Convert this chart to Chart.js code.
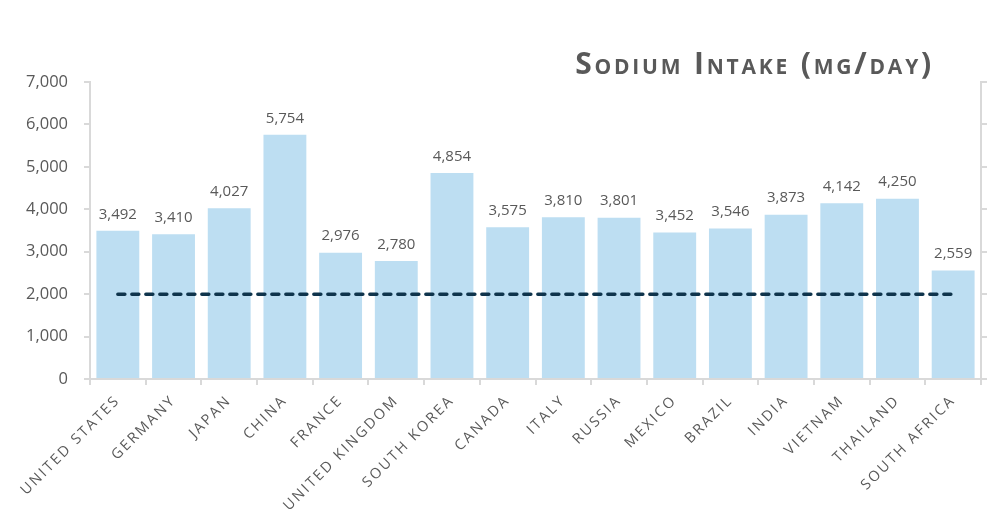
<!DOCTYPE html>
<html>
<head>
<meta charset="utf-8">
<script src="https://cdn.jsdelivr.net/npm/chart.js@4"></script>
<style>
	body { margin: 0; background: #fff; }
	.wrap { position: relative; width: 1004px; height: 531px; }
	.title {
		position: absolute;
		right: 70px;
		top: 48px;
		font-family: "Open Sans", sans-serif;
		font-weight: bold;
		font-size: 30px;
		line-height: 30px;
		font-variant: small-caps;
		letter-spacing: 2.8px;
		color: #595959;
	}
</style>
</head>
<body>
<div class="wrap">
	<canvas id="sodium-chart" width="1004" height="531"></canvas>
	<div class="title">Sodium Intake (mg/day)</div>
</div>
<script>
const countries = [
	"UNITED STATES", "GERMANY", "JAPAN", "CHINA", "FRANCE", "UNITED KINGDOM",
	"SOUTH KOREA", "CANADA", "ITALY", "RUSSIA", "MEXICO", "BRAZIL",
	"INDIA", "VIETNAM", "THAILAND", "SOUTH AFRICA",
];
const intake = [
	3492, 3410, 4027, 5754, 2976, 2780, 4854, 3575,
	3810, 3801, 3452, 3546, 3873, 4142, 4250, 2559,
];
const recommended = 2000;
const yTicks = [0, 1000, 2000, 3000, 4000, 5000, 6000, 7000];

const gray = "#595959";
const axisGray = "#d9d9d9";

// x labels are spaced out, the rest are not
const spacingPlugin = {
	id: "spacing",
	beforeDraw(chart) {
		chart.ctx.letterSpacing = "2.2px";
	},
	beforeDatasetsDraw(chart) {
		chart.ctx.letterSpacing = "0px";
	},
};

const valueLabels = {
	id: "valueLabels",
	afterDatasetsDraw(chart) {
		const ctx = chart.ctx;
		const meta = chart.getDatasetMeta(1);
		ctx.save();
		ctx.letterSpacing = "0px";
		ctx.font = "15px 'Open Sans'";
		ctx.fillStyle = gray;
		ctx.textAlign = "center";
		ctx.textBaseline = "bottom";
		meta.data.forEach((bar, i) => {
			ctx.fillText(intake[i].toLocaleString("en-US"), bar.x, bar.y - 9);
		});
		ctx.restore();
	},
};

const ctx = document.getElementById("sodium-chart").getContext("2d");

new Chart(ctx, {
	data: {
		labels: countries,
		datasets: [
			{
				type: "line",
				data: countries.map(() => recommended),
				borderColor: "#0f344c",
				borderWidth: 3.5,
				borderDash: [7, 7],
				borderCapStyle: "round",
				pointRadius: 0,
				fill: false,
				order: 0,
			},
			{
				type: "bar",
				data: intake,
				backgroundColor: "#bddef2",
				barPercentage: 0.77,
				categoryPercentage: 1,
				order: 1,
			},
		],
	},
	options: {
		responsive: false,
		animation: false,
		layout: {
			padding: { top: 82, right: 0, bottom: 0, left: 0 },
		},
		plugins: {
			legend: { display: false },
			tooltip: { enabled: false },
		},
		scales: {
			x: {
				afterFit(scale) {
					scale.height = 152;
				},
				grid: {
					offset: true,
					drawOnChartArea: false,
					color: axisGray,
					lineWidth: 2,
					tickLength: 6,
				},
				border: { color: axisGray, width: 2 },
				ticks: {
					minRotation: 45,
					maxRotation: 45,
					autoSkip: false,
					padding: 7,
					color: gray,
					font: { family: "'Open Sans'", size: 14.5 },
				},
			},
			y: {
				min: 0,
				max: 7000,
				afterFit(scale) {
					scale.width = 90;
				},
				afterBuildTicks(scale) {
					scale.ticks = yTicks.map((v) => ({ value: v }));
				},
				grid: {
					drawOnChartArea: false,
					color: axisGray,
					lineWidth: 2,
					tickLength: 6,
				},
				border: { color: axisGray, width: 2 },
				ticks: {
					z: 1,
					padding: 16,
					color: gray,
					font: { family: "'Open Sans'", size: 16.5 },
					callback: (v) => v.toLocaleString("en-US"),
				},
			},
			// empty axis on the right, ticks only
			y2: {
				position: "right",
				min: 0,
				max: 7000,
				afterFit(scale) {
					scale.width = 23;
				},
				afterBuildTicks(scale) {
					scale.ticks = yTicks.map((v) => ({ value: v }));
				},
				grid: {
					drawOnChartArea: false,
					color: axisGray,
					lineWidth: 2,
					tickLength: 6,
				},
				border: { color: axisGray, width: 2 },
				ticks: {
					callback: () => "",
				},
			},
		},
	},
	plugins: [spacingPlugin, valueLabels],
});
</script>
</body>
</html>
